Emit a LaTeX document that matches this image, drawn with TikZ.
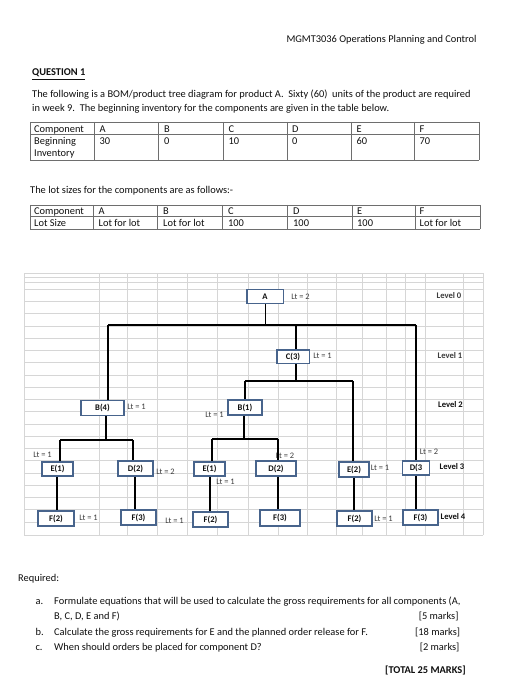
\documentclass[tikz,border=0pt]{standalone}
\usepackage{fontspec}
\setmainfont{Carlito}
\definecolor{boxblue}{RGB}{72,100,140}
\definecolor{gridgray}{RGB}{214,214,214}
\definecolor{tablegray}{RGB}{110,110,110}
\definecolor{txt}{RGB}{15,15,15}
\definecolor{lbl}{RGB}{60,60,60}
\begin{document}
\begin{tikzpicture}[x=1pt,y=-1pt,
  body/.style={anchor=base west,inner sep=0pt,text=txt,font=\fontsize{10.4}{13}\selectfont},
  bodyb/.style={body,font=\fontsize{10.4}{13}\selectfont\bfseries},
  tline/.style={draw=tablegray,line width=0.8pt},
  bomb/.style={draw=boxblue,line width=1.6pt,fill=white,inner sep=0pt,text=txt,
     font=\fontsize{8.6}{10}\selectfont\bfseries},
  conn/.style={draw=black,line width=1.5pt},
  lt/.style={inner sep=0pt,text=lbl,font=\fontsize{8.4}{10}\selectfont},
  lvl/.style={inner sep=0pt,text=txt,font=\fontsize{8.6}{10}\selectfont\bfseries},
  lvlr/.style={inner sep=0pt,text=lbl,font=\fontsize{8.6}{10}\selectfont\bfseries},
  gridl/.style={draw=gridgray,line width=0.6pt}]
\useasboundingbox (0,0) rectangle (529,700);
\fill[white] (0,0) rectangle (529,700);

% header
\node[body] (hdr) at (286.3,42.5) {MGMT3036 Operations Planning and Control};
\node[bodyb] (q1) at (32,76) {\underline{QUESTION 1}};
\node[body] (p1) at (32,98) {The following is a BOM/product tree diagram for product A.\ \ Sixty (60)\ \ units of the product are required};
\node[body] (p2) at (32,111.5) {in week 9.\ \ The beginning inventory for the components are given in the table below.};

% table 1
\foreach \x in {30,94,158,223,287,351,414,479} \draw[tline] (\x,122) -- (\x,160);
\foreach \y in {122,134,160} \draw[tline] (30,\y) -- (479,\y);
\node[body] (t1a) at (34,132.5) {Component};
\node[body] (t1b) at (34,145) {Beginning};
\node[body] (t1c) at (34,157) {Inventory};
\foreach \x/\h/\v [count=\i] in {99.5/A/30,164/B/0,228.5/C/10,292/D/0,356.5/E/60,419.5/F/70}{
  \node[body] (t1h\i) at (\x,132.5) {\h};
  \node[body] (t1v\i) at (\x,145) {\v};
}

\node[body] (lots) at (30,194) {The lot sizes for the components are as follows:-};

% table 2
\foreach \x in {30,93,157,222,287,352,415,480} \draw[tline] (\x,205) -- (\x,229);
\foreach \y in {205,216.5,229} \draw[tline] (30,\y) -- (480,\y);
\node[body] (t2a) at (34,214.5) {Component};
\node[body] (t2b) at (34,227) {Lot Size};
\foreach \x/\h/\v [count=\i] in {98.5/A/Lot for lot,163/B/Lot for lot,228/C/100,293/D/100,357/E/100,419.5/F/Lot for lot}{
  \node[body] (t2h\i) at (\x,214.5) {\h};
  \node[body] (t2v\i) at (\x,227) {\v};
}

% spreadsheet grid
\foreach \x in {24,99,127,157,187,217,248,278,307,336,362,386,405,425,463,483} \draw[gridl] (\x,273) -- (\x,535);
\foreach \y in {273,277.3,282.7,289,301.5,313.75,326,338.25,350.5,362.75,375,387.25,399.5,411.75,424,436.25,448.5,460.75,473,485.25,497.5,509.75,522,535} \draw[gridl] (24,\y) -- (483,\y);

% label crossed by a line
\node[lt] (lD2M) at (285,456) {Lt = 2};

% BOM boxes
\node[bomb,minimum width=36.6pt,minimum height=14pt] (A) at (265,296.3) {A};
\node[bomb,minimum width=32.6pt,minimum height=13.3pt] (C3) at (293,356.7) {C(3)};
\node[bomb,minimum width=43pt,minimum height=15pt] (B4) at (102.5,408) {B(4)};
\node[bomb,minimum width=34pt,minimum height=15pt] (B1) at (245,407.5) {B(1)};
\node[bomb,minimum width=31pt,minimum height=14pt] (E1L) at (57.5,469) {E(1)};
\node[bomb,minimum width=35pt,minimum height=15pt] (D2L) at (135.5,468.5) {D(2)};
\node[bomb,minimum width=36pt,minimum height=15pt] (F2L) at (56,518.5) {F(2)};
\node[bomb,minimum width=35pt,minimum height=15pt] (F3L) at (138.5,517.5) {F(3)};
\node[bomb,minimum width=31pt,minimum height=14pt] (E1M) at (209.5,469) {E(1)};
\node[bomb,minimum width=40pt,minimum height=15pt] (D2M) at (276,468.5) {D(2)};
\node[bomb,minimum width=35pt,minimum height=15pt] (F2M) at (210.5,519.5) {F(2)};
\node[bomb,minimum width=40pt,minimum height=16pt] (F3M) at (280,518) {F(3)};
\node[bomb,minimum width=30pt,minimum height=15pt] (E2R) at (354,469.5) {E(2)};
\node[bomb,minimum width=27pt,minimum height=14pt] (D3R) at (416,468) {D(3};
\node[bomb,minimum width=35pt,minimum height=15pt] (F2R) at (354.5,518.5) {F(2)};
\node[bomb,minimum width=35pt,minimum height=15pt] (F3R) at (420.5,517.5) {F(3)};

% connector coordinates
\coordinate (j0) at (265.7,325);
\coordinate (j0L) at (108,325);
\coordinate (j0R) at (416,325);
\coordinate (j0C) at (296,325);
\coordinate (j1) at (296,381);
\coordinate (j1L) at (245,381);
\coordinate (j1R) at (353,381);
\coordinate (j2) at (106,440);
\coordinate (j2L) at (60,440);
\coordinate (j2R) at (133,440);
\coordinate (j3) at (244,439);
\coordinate (j3L) at (212,439);
\coordinate (j3R) at (278,439);

% connectors
\draw[conn] (j0 |- A.south) -- (j0);
\draw[conn] (j0L) -- (j0R);
\draw[conn] (j0L) -- (j0L |- B4.north);
\draw[conn] (j0C) -- (j0C |- C3.north);
\draw[conn] (j0R) -- (j0R |- D3R.north);
\draw[conn] (j1 |- C3.south) -- (j1);
\draw[conn] (j1L) -- (j1R);
\draw[conn] (j1L) -- (j1L |- B1.north);
\draw[conn] (j1R) -- (j1R |- E2R.north);
\draw[conn] (j2 |- B4.south) -- (j2);
\draw[conn] (j2L) -- (j2R);
\draw[conn] (j2L) -- (j2L |- E1L.north);
\draw[conn] (j2R) -- (j2R |- D2L.north);
\draw[conn] (j3 |- B1.south) -- (j3);
\draw[conn] (j3L) -- (j3R);
\draw[conn] (j3L) -- (j3L |- E1M.north);
\draw[conn] (j3R) -- (j3R |- D2M.north);
\coordinate (k1) at (57,0);
\coordinate (k2) at (135,0);
\coordinate (k3) at (210,0);
\coordinate (k4) at (278,0);
\coordinate (k5) at (354,0);
\coordinate (k6) at (416,0);
\draw[conn] (k1 |- E1L.south) -- (k1 |- F2L.north);
\draw[conn] (k2 |- D2L.south) -- (k2 |- F3L.north);
\draw[conn] (k3 |- E1M.south) -- (k3 |- F2M.north);
\draw[conn] (k4 |- D2M.south) -- (k4 |- F3M.north);
\draw[conn] (k5 |- E2R.south) -- (k5 |- F2R.north);
\draw[conn] (k6 |- D3R.south) -- (k6 |- F3R.north);

% lead time labels
\node[lt] (lA) at (300.5,296.7) {Lt = 2};
\node[lt] (lC3) at (322.5,356.3) {Lt = 1};
\node[lt] (lB4) at (136.5,407) {Lt = 1};
\node[lt] (lB1) at (214.5,414.5) {Lt = 1};
\node[lt] (lE1L) at (42.5,455) {Lt = 1};
\node[lt] (lD2L) at (165.5,472) {Lt = 2};
\node[lt] (lF2L) at (88.5,518) {Lt = 1};
\node[lt] (lF3L) at (174.5,521) {Lt = 1};
\node[lt] (lE1M) at (225.5,482) {Lt = 1};
\node[lt] (lE2R) at (380,468) {Lt = 1};
\node[lt] (lD3R) at (429,452) {Lt = 2};
\node[lt] (lF2R) at (383.5,519) {Lt = 1};

% level labels
\node[lvlr] (lv0) at (449,295.5) {Level 0};
\node[lvlr] (lv1) at (450,356) {Level 1};
\node[lvl] (lv2) at (450.5,405) {Level 2};
\node[lvl] (lv3) at (452,467) {Level 3};
\node[lvl] (lv4) at (453,517) {Level 4};

% required
\node[body] (req) at (18,581.5) {Required:};
\node[body] (ia) at (35.4,604.5) {a.};
\node[body] (ta) at (54,604.5) {Formulate equations that will be used to calculate the gross requirements for all components (A,};
\node[body] (ta2) at (54,619.5) {B, C, D, E and F)};
\node[body] (ma) at (418.6,619.5) {[5 marks]};
\node[body] (ib) at (35.4,635) {b.};
\node[body] (tb) at (54,635) {Calculate the gross requirements for E and the planned order release for F.};
\node[body] (mb) at (415,635) {[18 marks]};
\node[body] (ic) at (35.4,650) {c.};
\node[body] (tc) at (54,650) {When should orders be placed for component D?};
\node[body] (mc) at (419.6,650) {[2 marks]};
\node[bodyb] (tot) at (385,673.5) {[TOTAL 25 MARKS]};
\end{tikzpicture}
\end{document}
